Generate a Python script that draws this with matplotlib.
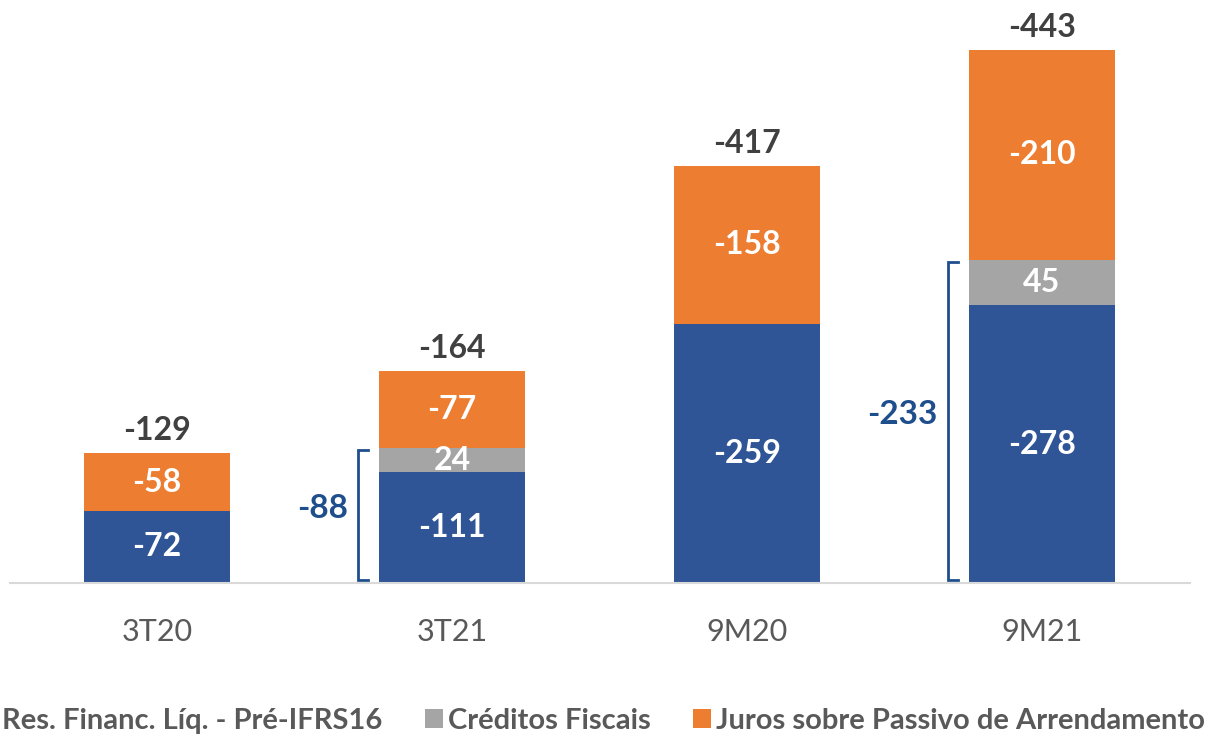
import matplotlib
matplotlib.use("Agg")
import matplotlib.pyplot as plt

categories = ["3T20", "3T21", "9M20", "9M21"]
res_financ = [-72, -111, -259, -278]
creditos = [0, 24, 0, 45]
juros = [-58, -77, -158, -210]
totals = [-129, -164, -417, -443]
bracket_idx = [1, 3]
bracket_vals = [-88, -233]

BLUE = "#2F5597"
GREY = "#A5A5A5"
ORANGE = "#ED7D31"
DARK = "#404040"
TICK = "#595959"
NAVY = "#1F4E8C"
FONT = "Lato"

W, H = 1229, 736
fig = plt.figure(figsize=(W / 100, H / 100), dpi=100)
ax = fig.add_axes([9.5 / W, 153 / H, 1180 / W, 560 / H])
ax.set_xlim(-0.5, 3.5)
ax.set_ylim(0, 560)

x = list(range(len(categories)))
bw = 0.495
h_blue = [abs(v) for v in res_financ]
h_grey = [abs(v) for v in creditos]
h_orange = [abs(v) for v in juros]
b2 = [a + b for a, b in zip(h_blue, h_grey)]

ax.bar(x, h_blue, bw, color=BLUE, label="Res. Financ. Líq. - Pré-IFRS16")
ax.bar(x, h_grey, bw, bottom=h_blue, color=GREY, label="Créditos Fiscais")
ax.bar(x, h_orange, bw, bottom=b2, color=ORANGE, label="Juros sobre Passivo de Arrendamento")

lab_kw = dict(ha="center", va="center", color="white", fontsize=23,
              fontweight="bold", family=FONT)
for i in x:
    ax.text(i, h_blue[i] / 2, f"{res_financ[i]}", **lab_kw)
    if h_grey[i]:
        ax.text(i, h_blue[i] + h_grey[i] / 2, f"{creditos[i]}", **lab_kw)
    ax.text(i, b2[i] + h_orange[i] / 2, f"{juros[i]}", **lab_kw)
    top = b2[i] + h_orange[i]
    ax.annotate(f"{totals[i]}", (i, top), xytext=(0, 6), textcoords="offset points",
                ha="center", va="bottom", color=DARK, fontsize=23,
                fontweight="bold", family=FONT, annotation_clip=False)

# brackets
for k, i in enumerate(bracket_idx):
    left = i - bw / 2
    xv = left - 0.071
    xt = left - 0.037
    y0, y1 = 3, b2[i] - 2
    ax.plot([xt, xv, xv, xt], [y0, y0, y1, y1], color=NAVY, lw=2,
            solid_joinstyle="miter", clip_on=False)
    ax.text(xv - 0.035, (y0 + y1) / 2 + 6, f"{bracket_vals[k]}", ha="right",
            va="center", color=NAVY, fontsize=24, fontweight="bold", family=FONT)

for s in ["top", "right", "left"]:
    ax.spines[s].set_visible(False)
ax.spines["bottom"].set_color("#D9D9D9")
ax.spines["bottom"].set_linewidth(1.5)
ax.set_yticks([])
ax.set_xticks(x)
ax.set_xticklabels(categories, fontsize=22, color=TICK, family=FONT)
ax.tick_params(axis="x", length=0, pad=25)

handles, labels = ax.get_legend_handles_labels()
leg = fig.legend(handles, labels, loc="center", ncol=3,
                 bbox_to_anchor=(592 / W, 15 / H), frameon=False,
                 handlelength=0.62, handleheight=0.62, handletextpad=0.17,
                 columnspacing=1.45,
                 prop={"family": FONT, "weight": "bold", "size": 21})
for t in leg.get_texts():
    t.set_color(TICK)

fig.savefig("out.png", dpi=100)
